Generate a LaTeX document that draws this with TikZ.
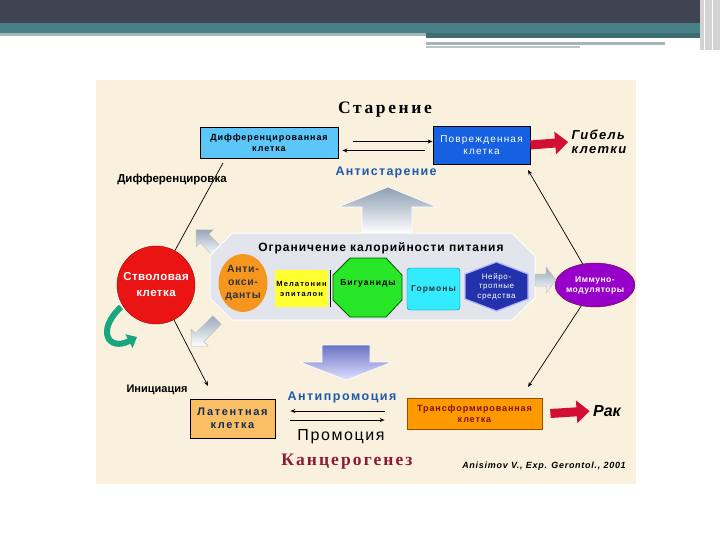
\documentclass[tikz,border=0pt]{standalone}
\usepackage{fontspec}
\setmainfont{Liberation Serif}
\setsansfont{Liberation Sans}
\usepackage{tikz}
\usetikzlibrary{shapes.geometric,arrows.meta,positioning}
\newcommand{\trk}[1]{\addfontfeature{LetterSpace=#1}}
\definecolor{hdark}{RGB}{63,68,83}
\definecolor{hteal}{RGB}{72,128,135}
\definecolor{hgray}{RGB}{165,180,182}
\definecolor{panelbg}{RGB}{250,240,222}
\definecolor{hexbg}{RGB}{226,229,236}
\definecolor{diffblue}{RGB}{92,198,248}
\definecolor{dmgblue}{RGB}{22,96,226}
\definecolor{latorange}{RGB}{250,190,100}
\definecolor{transorange}{RGB}{255,153,0}
\definecolor{transtext}{RGB}{120,20,20}
\definecolor{antiox}{RGB}{245,150,30}
\definecolor{melyellow}{RGB}{255,255,50}
\definecolor{biggreen}{RGB}{40,230,40}
\definecolor{hormcyan}{RGB}{50,235,255}
\definecolor{neuroblue}{RGB}{35,50,170}
\definecolor{immpurple}{RGB}{150,0,200}
\definecolor{stemred}{RGB}{235,20,20}
\definecolor{labblue}{RGB}{30,90,170}
\definecolor{carcred}{RGB}{140,25,55}
\definecolor{arrred}{RGB}{210,15,50}
\definecolor{curlgreen}{RGB}{25,165,125}
\definecolor{upgray}{RGB}{140,158,180}
\definecolor{downblue}{RGB}{105,115,195}
\tikzset{
  cellbox/.style={draw=black,line width=0.8pt,align=center,inner sep=1pt,
    font=\sffamily\bfseries\fontsize{9}{11}\selectfont\trk{10}},
  hexline/.style={line width=0.7pt},
  eqline/.style={line width=1pt,-{Stealth[length=5pt,width=4pt]}},
  redarrow/.style={arrred,line width=9pt,-{Triangle[width=22pt,length=13pt]}},
  blocky/.style={draw=white,line width=0.6pt,top color=upgray,bottom color=white},
  smallblock/.style={draw=gray!50,line width=0.5pt,top color=upgray!90,bottom color=white},
  biglabel/.style={font=\sffamily\bfseries\itshape\fontsize{13}{14}\selectfont\trk{10},align=left},
  pill/.style={align=center,font=\sffamily\bfseries\fontsize{8.5}{10}\selectfont\trk{12}}
}
\begin{document}
\begin{tikzpicture}[x=1pt,y=-1pt]
\useasboundingbox (0,0) rectangle (720,540);
% slide header
\fill[hdark] (0,0) rectangle (720,23);
\fill[hteal] (0,23) rectangle (700,33);
\fill[hgray] (0,33) rectangle (426,36);
\fill[hteal!85!black] (426,33) rectangle (700,38);
\fill[hgray] (426,42) rectangle (665,45);
\fill[hgray!80] (426,46) rectangle (580,48);
\fill[gray!35] (700,0) rectangle (720,50);
\draw[white,line width=0.6pt] (704,0) -- (704,50) (712,0) -- (712,50);
% panel
\fill[panelbg] (96,80) rectangle (636,484);

% top row
\node[font=\bfseries\fontsize{17.5}{19}\selectfont\trk{15}] (aging) at (385,110) {Старение};
\node[cellbox,fill=diffblue,minimum width=138pt,minimum height=31pt] (diff) at (269,142.5) {Дифференцированная\\клетка};
\node[cellbox,fill=dmgblue,text=white,font=\sffamily\fontsize{10}{12}\selectfont\trk{12},minimum width=97pt,minimum height=38pt] (dmg) at (481.5,145) {Поврежденная\\клетка};
\node[biglabel] (death) at (599,142) {Гибель\\клетки};
\draw[redarrow] (dmg.east) -- (death.west);
\draw[eqline] ([xshift=15pt,yshift=1pt]diff.east) -- ([yshift=1pt]diff.east -| dmg.west);
\draw[eqline] ([xshift=-8pt,yshift=-8pt]diff.east -| dmg.west) -- ([xshift=4pt,yshift=-8pt]diff.east);
\node[font=\sffamily\bfseries\fontsize{12.5}{14}\selectfont\trk{10},text=labblue] (antiaging) at (386,172) {Антистарение};
\draw[blocky] (388,187) -- (437,207) -- (412,207) -- (412,233) -- (362,233) -- (362,207) -- (338,207) -- cycle;

% left side
\node[font=\sffamily\bfseries\fontsize{11.5}{12}\selectfont] (difflab) at (172,180) {Дифференцировка};
\node[circle,fill=stemred,draw=red!60!black,minimum size=78pt,inner sep=0pt,align=center,text=white,
  font=\sffamily\bfseries\fontsize{11.5}{16}\selectfont\trk{4}] (stem) at (156,285) {Стволовая\\клетка};
\coordinate (diffin) at (223,163);
\draw[hexline] (stem) -- (diffin);
\node[font=\sffamily\bfseries\fontsize{11}{12}\selectfont] (initlab) at (157,390) {Инициация};
\node[cellbox,fill=latorange,text=labblue!50!black,font=\sffamily\bfseries\fontsize{11}{13}\selectfont\trk{15},
  minimum width=85pt,minimum height=39pt] (latent) at (232.5,418.5) {Латентная\\клетка};
\coordinate (latin) at (208,386);
\draw[hexline,-{Stealth[length=5pt,width=4pt]}] (stem) -- (latin);
\draw[curlgreen,line width=6pt,-{Triangle[width=15pt,length=9pt]}] (121,307) .. controls (96,330) and (108,352) .. (137,337);
% inhibiting block arrows
\draw[smallblock] (221.2,246.8) -- (208.7,234.3) -- (213,230) -- (196,230) -- (196,247) -- (200.3,242.7) -- (212.8,255.2) -- cycle;
\draw[smallblock] (212.8,315.8) -- (195.3,333.3) -- (191,329) -- (191,346) -- (208,346) -- (203.7,341.7) -- (221.2,324.2) -- cycle;

% central panel
\filldraw[draw=white,line width=1pt,fill=hexbg] (232,233) -- (512,233) -- (535,256) -- (535,298) -- (512,320) -- (232,320) -- (210,298) -- (210,256) -- cycle;
\node[font=\sffamily\bfseries\fontsize{12}{13}\selectfont\trk{8}] (calor) at (381,248) {Ограничение калорийности питания};
\node[ellipse,fill=antiox,minimum width=49pt,minimum height=58pt,inner sep=-3pt,align=center,
  text=black!80,font=\sffamily\bfseries\fontsize{10.5}{13}\selectfont\trk{6}] (antiox) at (243,283) {Анти-\\окси-\\данты};
\node[fill=melyellow,minimum width=53pt,minimum height=37pt,inner sep=0pt,pill,font=\sffamily\bfseries\fontsize{7.5}{10}\selectfont\trk{15}] (mel) at (301.5,288.5) {Мелатонин\\эпиталон};
\draw[line width=0.8pt] ([xshift=2pt]mel.north east) -- ([xshift=2pt]mel.south east);
\filldraw[fill=biggreen,draw=green!35!black,line width=0.8pt] (350,258) -- (386,258) -- (402,275) -- (402,300) -- (386,317) -- (350,317) -- (333,300) -- (333,275) -- cycle;
\node[pill] (bigu) at (368,283) {Бигуаниды};
\node[rounded corners=3pt,fill=hormcyan,draw=teal,minimum width=53pt,minimum height=42pt,inner sep=0pt,pill,
  text=black!80] (horm) at (433.5,289) {Гормоны};
\filldraw[fill=neuroblue,draw=blue!30,line width=1.2pt] (496.5,262) -- (528,274) -- (528,299) -- (496.5,311) -- (465,299) -- (465,274) -- cycle;
\node[pill,text=white,font=\sffamily\fontsize{8}{9.5}\selectfont\trk{8}] (neuro) at (496.5,286.5) {Нейро-\\тропные\\средства};

% right side
\node[ellipse,fill=immpurple,draw=purple!60!black,minimum width=80pt,minimum height=44pt,inner sep=-4pt,pill,
  text=white,font=\sffamily\bfseries\fontsize{8.5}{10}\selectfont\trk{6}] (immuno) at (595,285) {Иммуно-\\модуляторы};
\draw[smallblock] (535,274) -- (546,274) -- (546,267) -- (556,280) -- (546,293) -- (546,286) -- (535,286) -- cycle;
\coordinate (dmgin) at (528,170);
\coordinate (transin) at (528,387);
\draw[hexline,-{Stealth[length=5pt,width=4pt]}] (immuno) -- (dmgin);
\draw[hexline,-{Stealth[length=5pt,width=4pt]}] (immuno) -- (transin);

% bottom row
\draw[blocky,top color=downblue,bottom color=blue!12] (322,345) -- (370,345) -- (370,362) -- (392,362) -- (346,380) -- (300,362) -- (322,362) -- cycle;
\node[font=\sffamily\bfseries\fontsize{12.5}{14}\selectfont\trk{12},text=labblue] (antiprom) at (342,397) {Антипромоция};
\node[cellbox,fill=transorange,text=transtext,minimum width=135pt,minimum height=31pt,draw=orange!60!black] (trans) at (474.5,413.5) {Трансформированная\\клетка};
\draw[eqline] ([xshift=-22pt,yshift=7.5pt]latent.east -| trans.west) -- ([xshift=15pt,yshift=7.5pt]latent.east);
\draw[eqline] ([xshift=15pt,yshift=-1.5pt]latent.east) -- ([xshift=-22pt,yshift=-1.5pt]latent.east -| trans.west);
\node[font=\sffamily\fontsize{16}{18}\selectfont\trk{10}] (prom) at (341,437) {Промоция};
\node[biglabel,font=\sffamily\bfseries\itshape\fontsize{16}{18}\selectfont] (cancer) at (607,411) {Рак};
\draw[redarrow] ([xshift=8pt]trans.east) -- (cancer.west);
\node[font=\bfseries\fontsize{17.5}{19}\selectfont\trk{12},text=carcred] (carc) at (347,462) {Канцерогенез};
\node[font=\sffamily\bfseries\itshape\fontsize{9}{10}\selectfont\trk{8}] (cite) at (544,466) {Anisimov V., Exp. Gerontol., 2001};
\end{tikzpicture}
\end{document}
